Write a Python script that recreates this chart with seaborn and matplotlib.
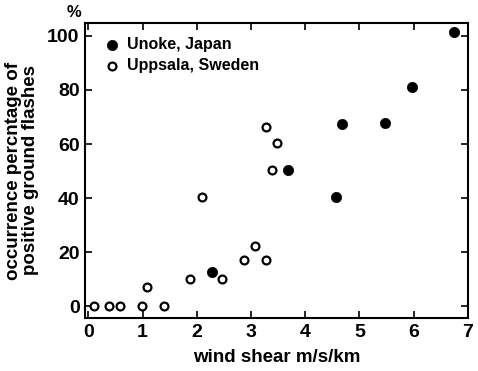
import pandas as pd
import seaborn as sns
import matplotlib.pyplot as plt

# Unoke, Japan (filled circles)
unoke_x = [2.28, 3.68, 4.57, 4.67, 5.47, 5.96, 6.75]
unoke_y = [12.7, 50.3, 40.5, 67.5, 67.7, 81.0, 101.5]

# Uppsala, Sweden (open circles)
uppsala_x = [0.10, 0.39, 0.58, 0.99, 1.39, 1.09, 1.87, 2.47, 2.09, 2.87, 3.08, 3.28, 3.27, 3.48, 3.38]
uppsala_y = [0.0, 0.0, 0.0, 0.0, 0.0, 6.9, 10.2, 10.0, 40.2, 17.0, 22.2, 17.0, 66.4, 60.2, 50.3]

x_ticks = [0, 1, 2, 3, 4, 5, 6, 7]
y_ticks = [0, 20, 40, 60, 80, 100]

df = pd.concat([
    pd.DataFrame({'x': unoke_x, 'y': unoke_y, 'site': 'Unoke, Japan'}),
    pd.DataFrame({'x': uppsala_x, 'y': uppsala_y, 'site': 'Uppsala, Sweden'}),
])

sns.set_style("ticks")
plt.rcParams['font.family'] = ['Liberation Sans', 'DejaVu Sans']
plt.rcParams['font.weight'] = 'bold'
plt.rcParams['text.color'] = 'black'
plt.rcParams['axes.labelcolor'] = 'black'
plt.rcParams['xtick.color'] = 'black'
plt.rcParams['ytick.color'] = 'black'
plt.rcParams['axes.edgecolor'] = 'black'

fig, ax = plt.subplots(figsize=(4.78, 3.71), dpi=100)
fig.subplots_adjust(left=0.178, right=0.979, top=0.938, bottom=0.143)

sns.scatterplot(data=df[df.site == 'Unoke, Japan'], x='x', y='y', ax=ax,
                color='black', s=55, edgecolor='black', linewidth=0.5,
                label='Unoke, Japan', zorder=3)
sns.scatterplot(data=df[df.site == 'Uppsala, Sweden'], x='x', y='y', ax=ax,
                facecolor='white', s=32, edgecolor='black', linewidth=1.6,
                label='Uppsala, Sweden', zorder=3)

ax.set_xlim(-0.06, 7.0)
ax.set_ylim(-4.4, 104.8)
ax.set_xticks(x_ticks)
ax.set_yticks(y_ticks)
ax.tick_params(direction='in', length=5, width=1.2, labelsize=14,
               top=True, right=True, pad=4)
for lab in ax.get_xticklabels() + ax.get_yticklabels():
    lab.set_fontweight('bold')
for sp in ax.spines.values():
    sp.set_linewidth(1.5)
    sp.set_visible(True)

ax.set_xlabel('wind shear m/s/km', fontsize=13.5, fontweight='bold', labelpad=6)
ax.set_ylabel('occurrence percntage of\npositive ground flashes', fontsize=13.5,
              fontweight='bold', labelpad=6, linespacing=1.0)
ax.text(-0.03, 1.01, '%', transform=ax.transAxes, fontsize=12,
        fontweight='bold', ha='center', va='bottom')

ax.legend(loc='upper left', frameon=False, handletextpad=0.1,
          borderaxespad=0.5, labelspacing=0.35, handlelength=1.6,
          prop={'weight': 'bold', 'size': 11.5})

fig.savefig('out.png', dpi=100)
